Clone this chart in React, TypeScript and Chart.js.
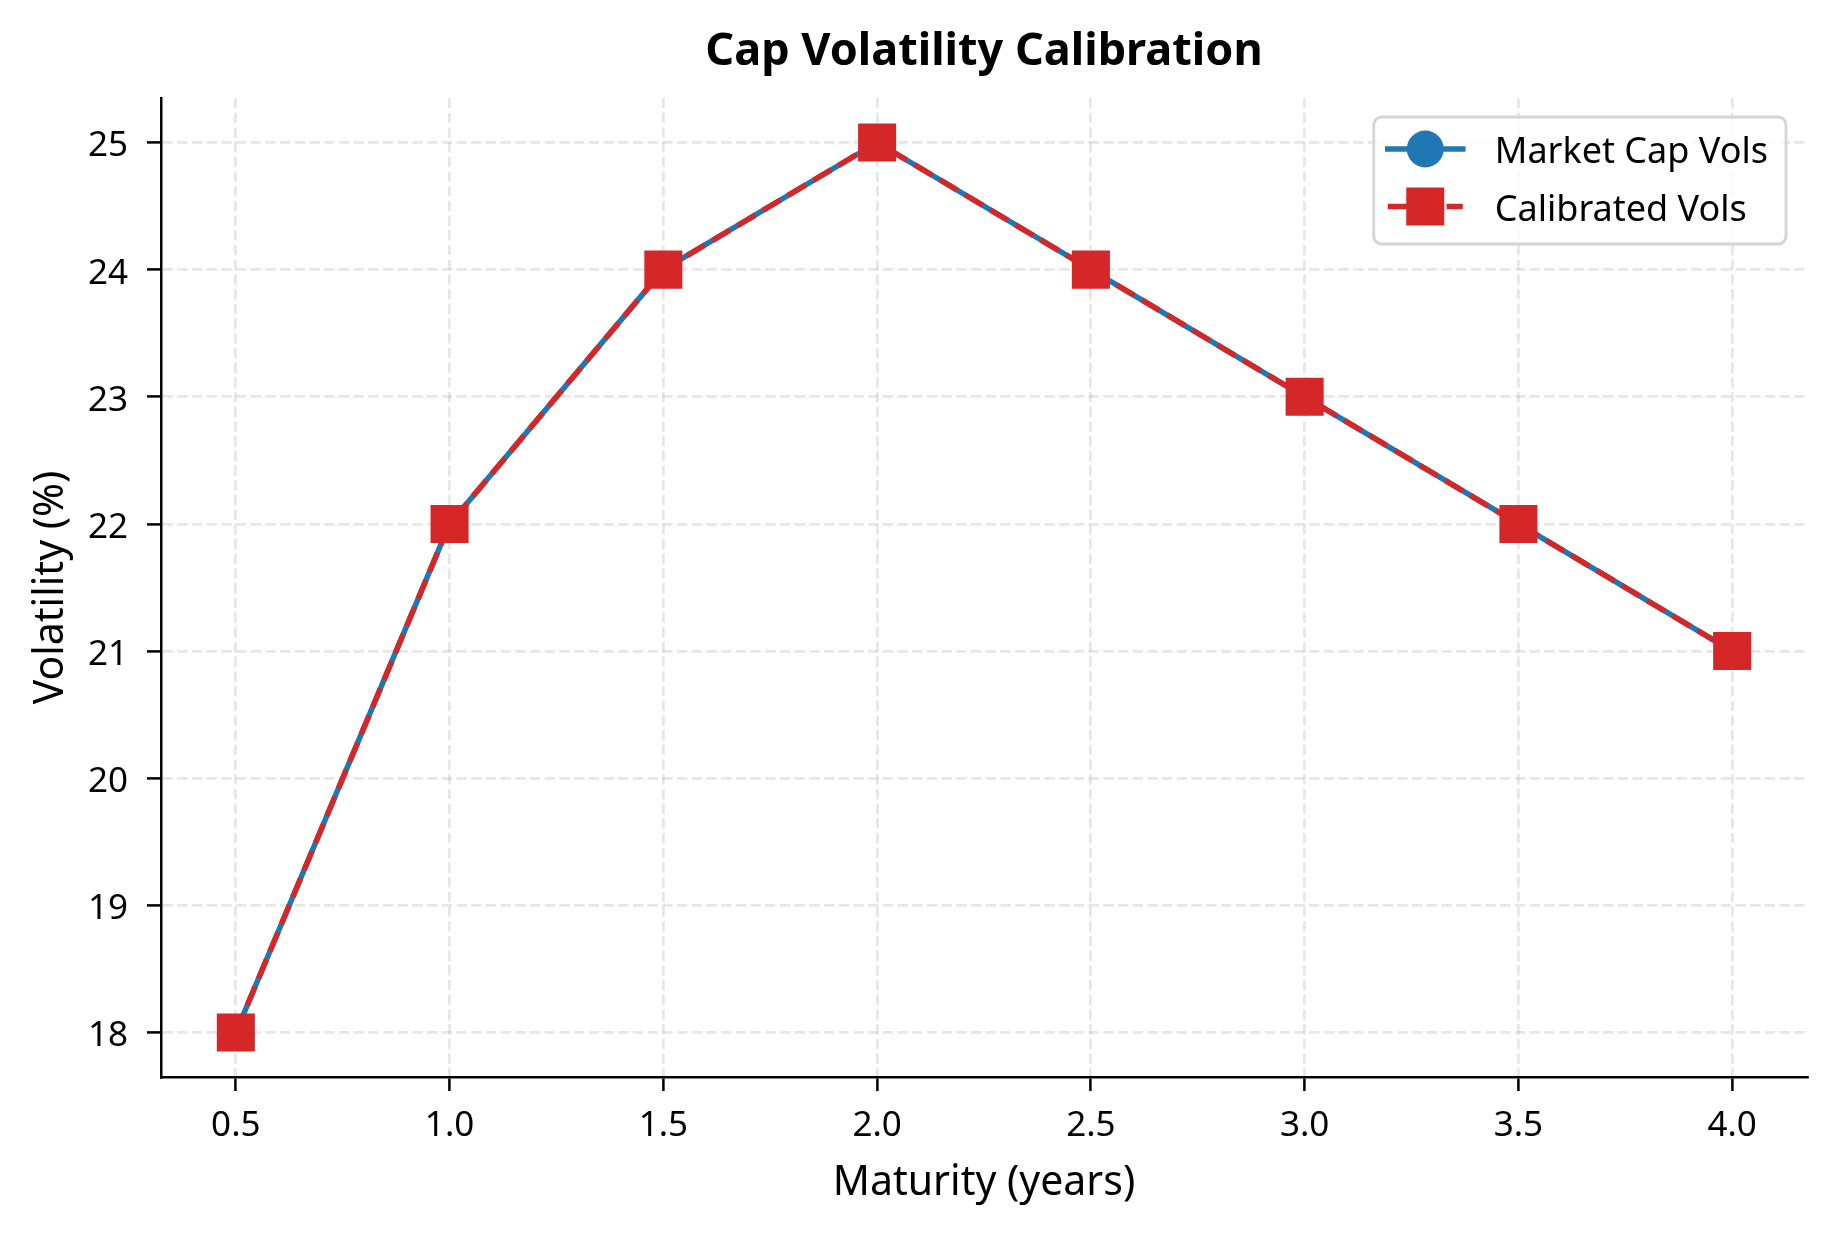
import { useEffect, useRef } from "react";
import { Chart, registerables } from "chart.js";

Chart.register(...registerables);

// datos
const maturities = [0.5, 1.0, 1.5, 2.0, 2.5, 3.0, 3.5, 4.0];
const marketVols = [18, 22, 24, 25, 24, 23, 22, 21];
const calibratedVols = [18, 22, 24, 25, 24, 23, 22, 21];
const xTickValues = [0.5, 1.0, 1.5, 2.0, 2.5, 3.0, 3.5, 4.0];
const xTickLabels = ["0.5", "1.0", "1.5", "2.0", "2.5", "3.0", "3.5", "4.0"];
const yTickValues = [18, 19, 20, 21, 22, 23, 24, 25];
const yTickLabels = ["18", "19", "20", "21", "22", "23", "24", "25"];

const BLUE = "#1f77b4";
const RED = "#d62728";
const FONT = "'Noto Sans', sans-serif";

// leyenda estilo matplotlib (línea + marcador)
const legendPlugin = {
  id: "mplLegend",
  afterDraw(chart: any) {
    const { ctx, chartArea } = chart;
    const datasets = chart.data.datasets;
    ctx.save();
    ctx.font = `36px ${FONT}`;
    let maxText = 0;
    datasets.forEach((d: any) => {
      maxText = Math.max(maxText, ctx.measureText(d.label).width);
    });
    const boxW = 121 + maxText + 18;
    const boxH = 127;
    const right = chartArea.right - 21;
    const left = right - boxW;
    const top = chartArea.top + 19;

    ctx.beginPath();
    ctx.roundRect(left, top, boxW, boxH, 8);
    ctx.fillStyle = "rgba(255,255,255,0.8)";
    ctx.fill();
    ctx.lineWidth = 2.8;
    ctx.strokeStyle = "#d4d4d4";
    ctx.stroke();

    datasets.forEach((d: any, i: number) => {
      const y = top + 32 + i * 57.5;
      const x0 = left + 14;
      const x1 = left + 89;
      ctx.save();
      ctx.strokeStyle = d.borderColor;
      ctx.lineWidth = d.borderWidth;
      if (d.borderDash) {
        ctx.setLineDash(d.borderDash);
        ctx.lineCap = "butt";
      } else {
        ctx.lineCap = "square";
      }
      ctx.beginPath();
      ctx.moveTo(x0, y);
      ctx.lineTo(x1, y);
      ctx.stroke();
      ctx.restore();

      const mx = (x0 + x1) / 2;
      ctx.fillStyle = d.pointBackgroundColor;
      if (d.pointStyle === "rect") {
        ctx.fillRect(mx - 19, y - 19, 38, 38);
      } else {
        ctx.beginPath();
        ctx.arc(mx, y, 18.5, 0, Math.PI * 2);
        ctx.fill();
      }

      ctx.fillStyle = "#000";
      ctx.textAlign = "left";
      ctx.textBaseline = "alphabetic";
      ctx.fillText(d.label, left + 121, y + 14);
    });
    ctx.restore();
  },
};

const App = () => {
  const canvasRef = useRef<HTMLCanvasElement>(null);

  useEffect(() => {
    document.body.style.margin = "0";
    if (!canvasRef.current) return;

    const chart = new Chart(canvasRef.current, {
      type: "line",
      data: {
        datasets: [
          {
            label: "Market Cap Vols",
            data: maturities.map((x, i) => ({ x, y: marketVols[i] })),
            borderColor: BLUE,
            backgroundColor: BLUE,
            borderWidth: 5.5,
            borderJoinStyle: "round",
            pointStyle: "circle",
            pointRadius: 18.5,
            pointBorderWidth: 0,
            pointBackgroundColor: BLUE,
            tension: 0,
            order: 2,
          },
          {
            label: "Calibrated Vols",
            data: maturities.map((x, i) => ({ x, y: calibratedVols[i] })),
            borderColor: RED,
            backgroundColor: RED,
            borderWidth: 5.5,
            borderDash: [20.5, 8.9],
            borderJoinStyle: "round",
            pointStyle: "rect",
            pointRadius: 26.9,
            pointBorderWidth: 0,
            pointBackgroundColor: RED,
            tension: 0,
            order: 1,
          },
        ],
      },
      options: {
        responsive: false,
        devicePixelRatio: 1,
        animation: false,
        layout: { padding: { left: 0, right: 27, top: 0, bottom: 0 } },
        plugins: {
          legend: { display: false },
          tooltip: { enabled: false },
          title: {
            display: true,
            text: "Cap Volatility Calibration",
            fullSize: false,
            color: "#000",
            font: { family: FONT, size: 45, weight: "bold" },
            padding: { top: 25, bottom: 19 },
          },
        },
        scales: {
          x: {
            type: "linear",
            min: 0.325,
            max: 4.175,
            afterBuildTicks: (scale: any) => {
              scale.ticks = xTickValues.map((v) => ({ value: v }));
            },
            afterFit: (scale: any) => {
              scale.height = 157;
            },
            ticks: {
              callback: (_v: any, i: number) => xTickLabels[i],
              color: "#000",
              font: { family: FONT, size: 35 },
              padding: 14,
              maxRotation: 0,
            },
            grid: {
              color: "rgba(176,176,176,0.3)",
              lineWidth: 2.8,
              tickLength: 14,
              tickColor: "#000",
              tickWidth: 2.5,
            },
            border: { display: true, color: "#000", width: 2.5, dash: [10.3, 4.4] },
            title: {
              display: true,
              text: "Maturity (years)",
              color: "#000",
              font: { family: FONT, size: 41 },
              padding: { top: 0, bottom: 26 },
            },
          },
          y: {
            type: "linear",
            min: 17.65,
            max: 25.35,
            afterBuildTicks: (scale: any) => {
              scale.ticks = yTickValues.map((v) => ({ value: v }));
            },
            afterFit: (scale: any) => {
              scale.width = 161;
            },
            ticks: {
              callback: (_v: any, i: number) => yTickLabels[i],
              color: "#000",
              font: { family: FONT, size: 35 },
              padding: 19,
              labelOffset: 4,
            },
            grid: {
              color: "rgba(176,176,176,0.3)",
              lineWidth: 2.8,
              tickLength: 14,
              tickColor: "#000",
              tickWidth: 2.5,
            },
            border: { display: true, color: "#000", width: 2.5, dash: [10.3, 4.4] },
            title: {
              display: true,
              text: "Volatility (%)",
              color: "#000",
              font: { family: FONT, size: 41 },
              padding: { top: 27, bottom: 0 },
            },
          },
        },
      },
      plugins: [legendPlugin],
    } as any);

    return () => {
      chart.destroy();
    };
  }, []);

  return (
    <div style={{ width: 1834, height: 1234, background: "#fff" }}>
      <canvas ref={canvasRef} width={1834} height={1234} style={{ display: "block" }} />
    </div>
  );
};

export default App;
